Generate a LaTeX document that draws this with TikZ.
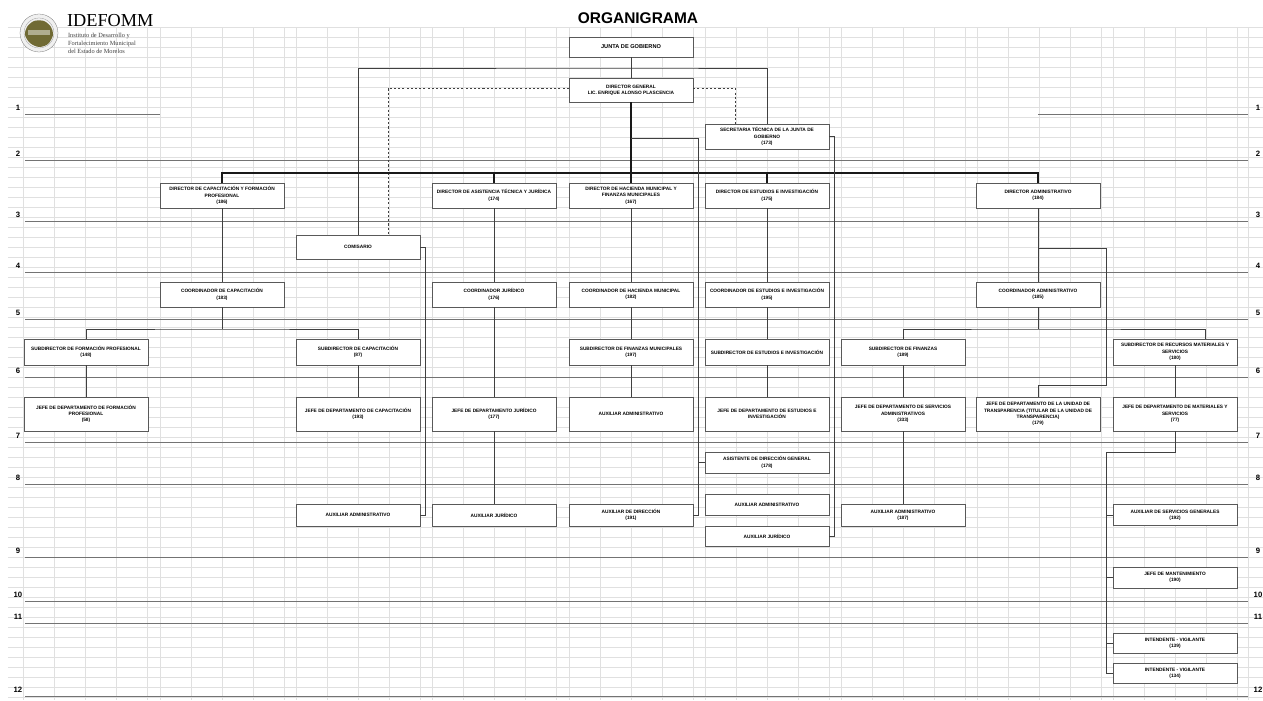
\documentclass[tikz,border=0pt]{standalone}
\usepackage{fontspec}
\newfontfamily\arialfont{Liberation Sans}
\newfontfamily\timesfont{Liberation Serif}
\definecolor{logoolive}{RGB}{112,106,52}

\begin{document}
\begin{tikzpicture}[x=0.05cm,y=-0.05cm]
	\tikzset{box/.style = {draw=black!65, fill=white, minimum width=6.2cm, minimum height=1.25cm, inner sep=1pt, align=center, font=\arialfont\bfseries\fontsize{6.8}{9}\selectfont}}
	\tikzset{conn/.style = {draw=black!75, line width=0.8pt}}
	\tikzset{mainconn/.style = {draw=black!90, line width=1.6pt}}
	\tikzset{dashconn/.style = {conn, dashed}}
	\tikzset{grid/.style = {draw=black!12, line width=0.5pt}}
	\tikzset{rowline/.style = {draw=black!55, line width=0.8pt}}
	\tikzset{rownum/.style = {inner sep=0pt, font=\arialfont\bfseries\fontsize{11}{11}\selectfont}}
	\useasboundingbox (0,0) rectangle (1263,700);
	\fill[white] (0,0) rectangle (1263,700);
	% hoja de fondo
	\foreach \y in {27,37,...,697}
		\draw[grid] (8,\y) -- (1263,\y);
	\foreach \s in {23,160,296,432,569,705,841,977,1113}
		\foreach \k in {0,1,2,3,4}
			\draw[grid] (\s+31*\k,27) -- (\s+31*\k,700);
	\draw[grid] (1248,27) -- (1248,700);
	% renglones numerados
	\draw[rowline] (25,114) -- (160,114);
	\draw[rowline] (1038,114) -- (1248,114);
	\node[rownum] (l1) at (18,108) {1};
	\node[rownum] (r1) at (1258,108) {1};
	\foreach \y/\n in {160/2,221/3,272/4,319/5,377/6,442/7,484/8,557/9,601/10,623/11,696/12} {
		\draw[rowline] (25,\y) -- (1248,\y);
		\node[rownum] (l\n) at (18,\y-6) {\n};
		\node[rownum] (r\n) at (1258,\y-6) {\n};
	}
	% logo y titulo
	\fill[black!6] (39,33) circle (19);
	\draw[black!55] (39,33) circle (19);
	\draw[black!40] (39,33) circle (15);
	\fill[logoolive] plot[smooth cycle] coordinates {(27,27) (34,21) (44,21) (51,27) (53,35) (48,44) (39,47) (30,43) (25,35)};
	\fill[logoolive!55] (28,30) rectangle (50,35);
	\node[anchor=north west, inner sep=0pt, font=\timesfont\fontsize{26}{26}\selectfont] (idefomm) at (67,14) {IDEFOMM};
	\node[anchor=north west, inner sep=0pt, align=left, text=black!75, font=\timesfont\fontsize{9}{11.5}\selectfont] (instituto) at (68,33) {Instituto de Desarrollo y\\Fortalecimiento Municipal\\del Estado de Morelos};
	\node[font=\arialfont\bfseries\fontsize{22}{22}\selectfont] (titulo) at (638,18) {ORGANIGRAMA};
	% puestos
	\node[box, minimum height=1cm, font=\arialfont\bfseries\fontsize{8}{9}\selectfont] (jg) at (631,47) {JUNTA DE GOBIERNO};
	\node[box, minimum height=1.2cm] (dg) at (631,90) {DIRECTOR GENERAL\\LIC. ENRIQUE ALONSO PLASCENCIA};
	\node[box] (st) at (767,136.5) {SECRETARIA TÉCNICA DE LA JUNTA DE\\GOBIERNO\\(173)};
	\node[box] (dcap) at (222,195.5) {DIRECTOR DE CAPACITACIÓN Y FORMACIÓN\\PROFESIONAL\\(186)};
	\node[box] (djur) at (494,195.5) {DIRECTOR DE ASISTENCIA TÉCNICA Y JURÍDICA\\(174)};
	\node[box] (dhac) at (631,195.5) {DIRECTOR DE HACIENDA MUNICIPAL Y\\FINANZAS MUNICIPALES\\(167)};
	\node[box] (dest) at (767,195.5) {DIRECTOR DE ESTUDIOS E INVESTIGACIÓN\\(175)};
	\node[box] (dadm) at (1038,195.5) {DIRECTOR ADMINISTRATIVO\\(184)};
	\node[box, minimum height=1.2cm] (com) at (358,247) {COMISARIO};
	\node[box] (ccap) at (222,294.5) {COORDINADOR DE CAPACITACIÓN\\(183)};
	\node[box] (cjur) at (494,294.5) {COORDINADOR JURÍDICO\\(176)};
	\node[box] (chac) at (631,294.5) {COORDINADOR DE HACIENDA MUNICIPAL\\(182)};
	\node[box] (cest) at (767,294.5) {COORDINADOR DE ESTUDIOS E INVESTIGACIÓN\\(195)};
	\node[box] (cadm) at (1038,294.5) {COORDINADOR ADMINISTRATIVO\\(185)};
	\node[box, minimum height=1.3cm] (sform) at (86,352) {SUBDIRECTOR DE FORMACIÓN PROFESIONAL\\(148)};
	\node[box, minimum height=1.3cm] (scap) at (358,352) {SUBDIRECTOR DE CAPACITACIÓN\\(87)};
	\node[box, minimum height=1.3cm] (sfm) at (631,352) {SUBDIRECTOR DE FINANZAS MUNICIPALES\\(197)};
	\node[box, minimum height=1.3cm] (sest) at (767,352) {SUBDIRECTOR DE ESTUDIOS E INVESTIGACIÓN};
	\node[box, minimum height=1.3cm] (sfin) at (903,352) {SUBDIRECTOR DE FINANZAS\\(189)};
	\node[box, minimum height=1.3cm] (smat) at (1175,352) {SUBDIRECTOR DE RECURSOS MATERIALES Y\\SERVICIOS\\(180)};
	\node[box, minimum height=1.7cm] (jform) at (86,414) {JEFE DE DEPARTAMENTO DE FORMACIÓN\\PROFESIONAL\\(58)};
	\node[box, minimum height=1.7cm] (jcap) at (358,414) {JEFE DE DEPARTAMENTO DE CAPACITACIÓN\\(193)};
	\node[box, minimum height=1.7cm] (jjur) at (494,414) {JEFE DE DEPARTAMENTO JURÍDICO\\(177)};
	\node[box, minimum height=1.7cm] (auxa) at (631,414) {AUXILIAR ADMINISTRATIVO};
	\node[box, minimum height=1.7cm] (jest) at (767,414) {JEFE DE DEPARTAMENTO DE ESTUDIOS E\\INVESTIGACIÓN};
	\node[box, minimum height=1.7cm] (jserv) at (903,414) {JEFE DE DEPARTAMENTO DE SERVICIOS\\ADMINISTRATIVOS\\(333)};
	\node[box, minimum height=1.7cm] (jtra) at (1038,414) {JEFE DE DEPARTAMENTO DE LA UNIDAD DE\\TRANSPARENCIA (TITULAR DE LA UNIDAD DE\\TRANSPARENCIA)\\(179)};
	\node[box, minimum height=1.7cm] (jmat) at (1175,414) {JEFE DE DEPARTAMENTO DE MATERIALES Y\\SERVICIOS\\(77)};
	\node[box, minimum height=1.05cm] (asis) at (767,462.5) {ASISTENTE DE DIRECCIÓN GENERAL\\(178)};
	\node[box, minimum height=1.1cm] (auxb) at (358,515) {AUXILIAR ADMINISTRATIVO};
	\node[box, minimum height=1.1cm] (auxj) at (494,515) {AUXILIAR JURÍDICO};
	\node[box, minimum height=1.1cm] (auxd) at (631,515) {AUXILIAR DE DIRECCIÓN\\(191)};
	\node[box, minimum height=1.05cm] (auxc) at (767,504.5) {AUXILIAR ADMINISTRATIVO};
	\node[box, minimum height=1cm] (auxk) at (767,536) {AUXILIAR JURÍDICO};
	\node[box, minimum height=1.1cm] (auxe) at (903,515) {AUXILIAR ADMINISTRATIVO\\(187)};
	\node[box, minimum height=1.05cm] (auxs) at (1175,515) {AUXILIAR DE SERVICIOS GENERALES\\(192)};
	\node[box, minimum height=1.05cm] (jman) at (1175,577.5) {JEFE DE MANTENIMIENTO\\(190)};
	\node[box, minimum height=1cm] (int1) at (1175,643) {INTENDENTE - VIGILANTE\\(139)};
	\node[box, minimum height=1cm] (int2) at (1175,673) {INTENDENTE - VIGILANTE\\(134)};
	% lineas de mando
	\coordinate (jg1) at (631,68);
	\coordinate (bus) at (631,173);
	\coordinate (dg1) at (631,138);
	\coordinate (dg2) at (698,515);
	\coordinate (cap1) at (222,329);
	\coordinate (adm1) at (1038,329);
	\coordinate (adm2) at (1038,248);
	\coordinate (adm3) at (1106,385);
	\coordinate (mat1) at (1106,452);
	\draw[conn] (jg) -- (dg);
	\draw[conn] (com.north) |- (jg1) -| (st.north);
	\draw[dashconn] ([yshift=0.1cm]dg.west) -| ([xshift=1.5cm]com.north);
	\draw[dashconn] ([yshift=0.1cm]dg.east) -| ([xshift=-1.6cm]st.north);
	\draw[mainconn] (dg) -- (dhac);
	\draw[mainconn] (dcap.north) |- (bus) -| (dadm.north);
	\draw[mainconn] (djur.north) -- (djur.north |- bus);
	\draw[mainconn] (dest.north) -- (dest.north |- bus);
	\draw[conn] (st.east) -- ++(5,0) |- (auxk.east);
	\draw[conn] (dg1) -| (dg2) -- (auxd.east);
	\draw[conn] (asis.west) -- (asis.west -| dg2);
	\draw[conn] (com.east) -- ++(5,0) |- (auxb.east);
	\draw[conn] (dcap) -- (ccap);
	\draw[conn] (ccap.south) -- (cap1);
	\draw[conn] (sform.north) |- (cap1) -| (scap.north);
	\draw[conn] (sform) -- (jform);
	\draw[conn] (scap) -- (jcap);
	\draw[conn] (djur) -- (cjur);
	\draw[conn] (cjur) -- (jjur);
	\draw[conn] (jjur) -- (auxj);
	\draw[conn] (dhac) -- (chac);
	\draw[conn] (chac) -- (sfm);
	\draw[conn] (sfm) -- (auxa);
	\draw[conn] (dest) -- (cest);
	\draw[conn] (cest) -- (sest);
	\draw[conn] (sest) -- (jest);
	\draw[conn] (dadm) -- (cadm);
	\draw[conn] (cadm.south) -- (adm1);
	\draw[conn] (sfin.north) |- (adm1) -| ([xshift=1.5cm]smat.north);
	\draw[conn] (adm2) -| (adm3) -| (jtra.north);
	\draw[conn] (sfin) -- (jserv);
	\draw[conn] (jserv) -- (auxe);
	\draw[conn] (smat) -- (jmat);
	\draw[conn] (jmat.south) |- (mat1) |- (int2.west);
	\foreach \n in {auxs,jman,int1}
		\draw[conn] (\n.west) -- (\n.west -| mat1);
\end{tikzpicture}
\end{document}
